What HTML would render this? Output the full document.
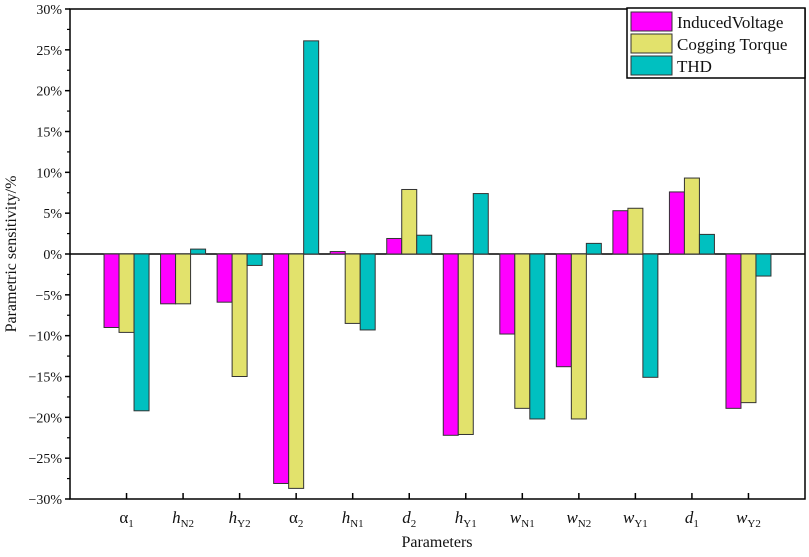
<!DOCTYPE html>
<html><head><meta charset="utf-8"><style>
body{margin:0;background:#fff;}
svg text{font-family:"Liberation Serif",serif;fill:#111;}
</style></head><body>
<svg id="chart" width="809" height="552">
<g id="axes"></g><g id="bars"></g><g id="legend"></g>
</svg>
<script>
const categories=[["α","1"],["h","N2"],["h","Y2"],["α","2"],["h","N1"],["d","2"],["h","Y1"],["w","N1"],["w","N2"],["w","Y1"],["d","1"],["w","Y2"]];
const inducedVoltage=[-9,-6.1,-5.9,-28.1,0.3,1.9,-22.2,-9.8,-13.8,5.3,7.6,-18.9];
const coggingTorque=[-9.6,-6.1,-15,-28.7,-8.5,7.9,-22.1,-18.9,-20.2,5.6,9.3,-18.2];
const thd=[-19.2,0.6,-1.4,26.1,-9.3,2.3,7.4,-20.2,1.3,-15.1,2.4,-2.7];
const yTicks=[-30,-25,-20,-15,-10,-5,0,5,10,15,20,25,30];
const seriesNames=["InducedVoltage","Cogging Torque","THD"];
const colors=["#ff00ff","#e2e26c","#00c0c0"];
const X0=70,X1=805,Y0=9,Y1=499;
const ns="http://www.w3.org/2000/svg";
function y(v){return Y1-(v+30)/60*(Y1-Y0);}
function x(i){return X0+(i+1)*(X1-X0)/13;}
function mk(t,a,p){const e=document.createElementNS(ns,t);for(const k in a)e.setAttribute(k,a[k]);p.appendChild(e);return e;}
const ax=document.getElementById('axes'),bg=document.getElementById('bars'),lg=document.getElementById('legend');
let fr=mk('rect',{x:X0,y:Y0,width:X1-X0,height:Y1-Y0,fill:'none',stroke:'#000','stroke-width':1.5},ax);

let zl=mk('line',{x1:X0,x2:X1,y1:y(0),y2:y(0),stroke:'#000','stroke-width':1.5},ax);

yTicks.forEach(v=>{
  mk('line',{x1:X0-5,x2:X0,y1:y(v),y2:y(v),stroke:'#000','stroke-width':1.5},ax);
  if(v<30) mk('line',{x1:X0-3,x2:X0,y1:y(v+2.5),y2:y(v+2.5),stroke:'#000','stroke-width':1.2},ax);
  const t=mk('text',{x:X0-8,y:y(v)+5,'text-anchor':'end','font-size':14},ax);
  t.textContent=(v<0?'−':'')+Math.abs(v)+'%';
  
});
categories.forEach((c,i)=>{
  mk('line',{x1:x(i),x2:x(i),y1:Y1,y2:Y1-6,stroke:'#000','stroke-width':1.5},ax);
  const t=mk('text',{x:x(i),y:Y1+24,'text-anchor':'middle','font-size':17},ax);
  const a=document.createElementNS(ns,'tspan');a.textContent=c[0];if(c[0]!=='α')a.setAttribute('font-style','italic');t.appendChild(a);
  const b=document.createElementNS(ns,'tspan');b.textContent=c[1];b.setAttribute('font-size',11);b.setAttribute('dy',4);t.appendChild(b);
  
});
const all=[inducedVoltage,coggingTorque,thd],bw=15;
all.forEach((s,k)=>s.forEach((v,i)=>{
  const r=mk('rect',{x:x(i)+(k-1)*bw-bw/2,y:Math.min(y(v),y(0)),width:bw,height:Math.abs(y(v)-y(0)),fill:colors[k],stroke:'#333','stroke-width':1},bg);
  
  
}));
let lb=mk('rect',{x:627,y:8,width:178,height:70,fill:'#fff',stroke:'#000','stroke-width':1.5},lg);

seriesNames.forEach((n,k)=>{
  const yy=12+k*22;
  const s=mk('rect',{x:631,y:yy,width:41,height:19,fill:colors[k],stroke:'#333'},lg);
  
  const t=mk('text',{x:677,y:yy+16,'font-size':17},lg);t.textContent=n;
  
});
let xt=mk('text',{x:437,y:547,'text-anchor':'middle','font-size':16},ax);xt.textContent='Parameters';

let yt=mk('text',{x:0,y:0,'text-anchor':'middle','font-size':16,transform:'translate(16,254) rotate(-90)'},ax);yt.textContent='Parametric sensitivity/%';

</script>
</body></html>
